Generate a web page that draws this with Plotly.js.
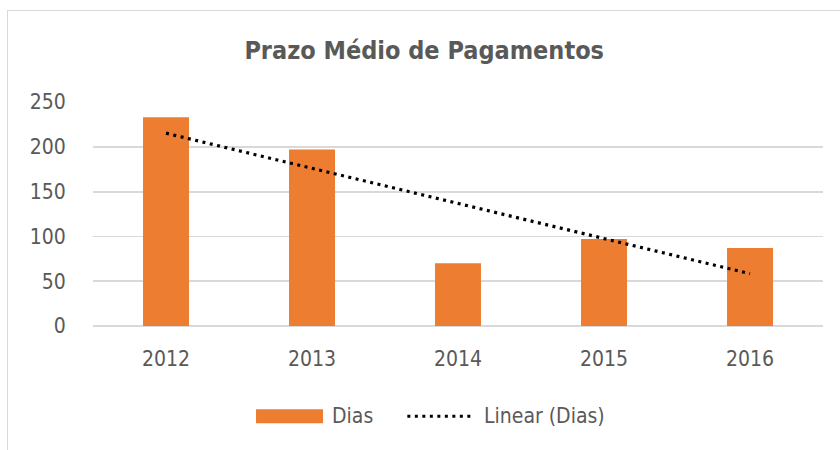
<!DOCTYPE html>
<html>
<head>
<meta charset="utf-8">
<script src="https://cdn.plot.ly/plotly-3.0.1.min.js"></script>
<style>
body{margin:0;padding:0;background:#fff;}
#wrap{position:relative;width:840px;height:450px;overflow:hidden;}
#chart{position:absolute;left:0;top:0;width:840px;height:450px;}
#frame{position:absolute;left:7px;top:10px;width:840px;height:460px;border:1.5px solid #d9d9d9;pointer-events:none;}
</style>
</head>
<body>
<div id="wrap"><div id="chart"></div><div id="frame"></div></div>
<script>
const categories = ['2012', '2013', '2014', '2015', '2016'];
const dias = [233, 197, 70, 97, 87];
const yTicks = [0, 50, 100, 150, 200, 250];
const seriesName = 'Dias';
const trendName = 'Linear (Dias)';

// Linear trendline (least squares) like Excel's "Linear (Dias)"
const xs = categories.map((_, i) => i + 1);
const n = xs.length;
const mx = xs.reduce((a, b) => a + b, 0) / n;
const my = dias.reduce((a, b) => a + b, 0) / n;
let sxy = 0, sxx = 0;
for (let i = 0; i < n; i++) { sxy += (xs[i] - mx) * (dias[i] - my); sxx += (xs[i] - mx) ** 2; }
const slope = sxy / sxx;
const icpt = my - slope * mx;
const trend = xs.map(x => icpt + slope * x);

const font = "'Liberation Sans Narrow', 'Arial Narrow', 'DejaVu Sans Condensed', sans-serif";
const dotDash = '3px,4.5px';

const data = [
  {type: 'bar', x: categories, y: dias, name: seriesName,
   marker: {color: '#ed7d31'}},
  {type: 'scatter', mode: 'lines', x: categories, y: trend, name: trendName,
   line: {color: '#000000', dash: dotDash, width: 3.2}}
];

const layout = {
  width: 840, height: 450,
  margin: {l: 93, r: 17, t: 102, b: 124},
  paper_bgcolor: '#ffffff', plot_bgcolor: '#ffffff',
  bargap: 0.685,
  title: {text: '<b>Prazo Médio de Pagamentos</b>', x: 0.505, xanchor: 'center', y: 0.888, yanchor: 'middle',
          font: {family: font, size: 25, color: '#595959'}},
  xaxis: {type: 'category', showgrid: false, showline: false, zeroline: false,
          ticks: 'outside', ticklen: 14, tickcolor: 'rgba(0,0,0,0)',
          tickfont: {family: font, size: 21, color: '#595959'}},
  yaxis: {range: [0, 250], tickvals: yTicks, showgrid: true, gridcolor: '#d9d9d9', gridwidth: 1.8,
          zeroline: true, zerolinecolor: '#d9d9d9', zerolinewidth: 1.8, showline: false,
          ticks: 'outside', ticklen: 22, tickcolor: 'rgba(0,0,0,0)',
          tickfont: {family: font, size: 21, color: '#595959'}},
  showlegend: false,
  // Legend drawn manually (wide Excel-style legend keys)
  shapes: [
    {type: 'rect', xref: 'paper', yref: 'paper', x0: 0.2233, x1: 0.3151, y0: -0.372, y1: -0.434,
     fillcolor: '#ed7d31', line: {width: 0}},
    {type: 'line', xref: 'paper', yref: 'paper', x0: 0.4306, x1: 0.5187, y0: -0.403, y1: -0.403,
     line: {color: '#000000', width: 3.2, dash: dotDash}}
  ],
  annotations: [
    {xref: 'paper', yref: 'paper', x: 0.325, y: -0.403, xanchor: 'left', yanchor: 'middle', showarrow: false,
     text: seriesName, font: {family: font, size: 21, color: '#595959'}},
    {xref: 'paper', yref: 'paper', x: 0.533, y: -0.403, xanchor: 'left', yanchor: 'middle', showarrow: false,
     text: trendName, font: {family: font, size: 21, color: '#595959'}}
  ]
};

Plotly.newPlot('chart', data, layout, {displayModeBar: false, staticPlot: true});
</script>
</body>
</html>
